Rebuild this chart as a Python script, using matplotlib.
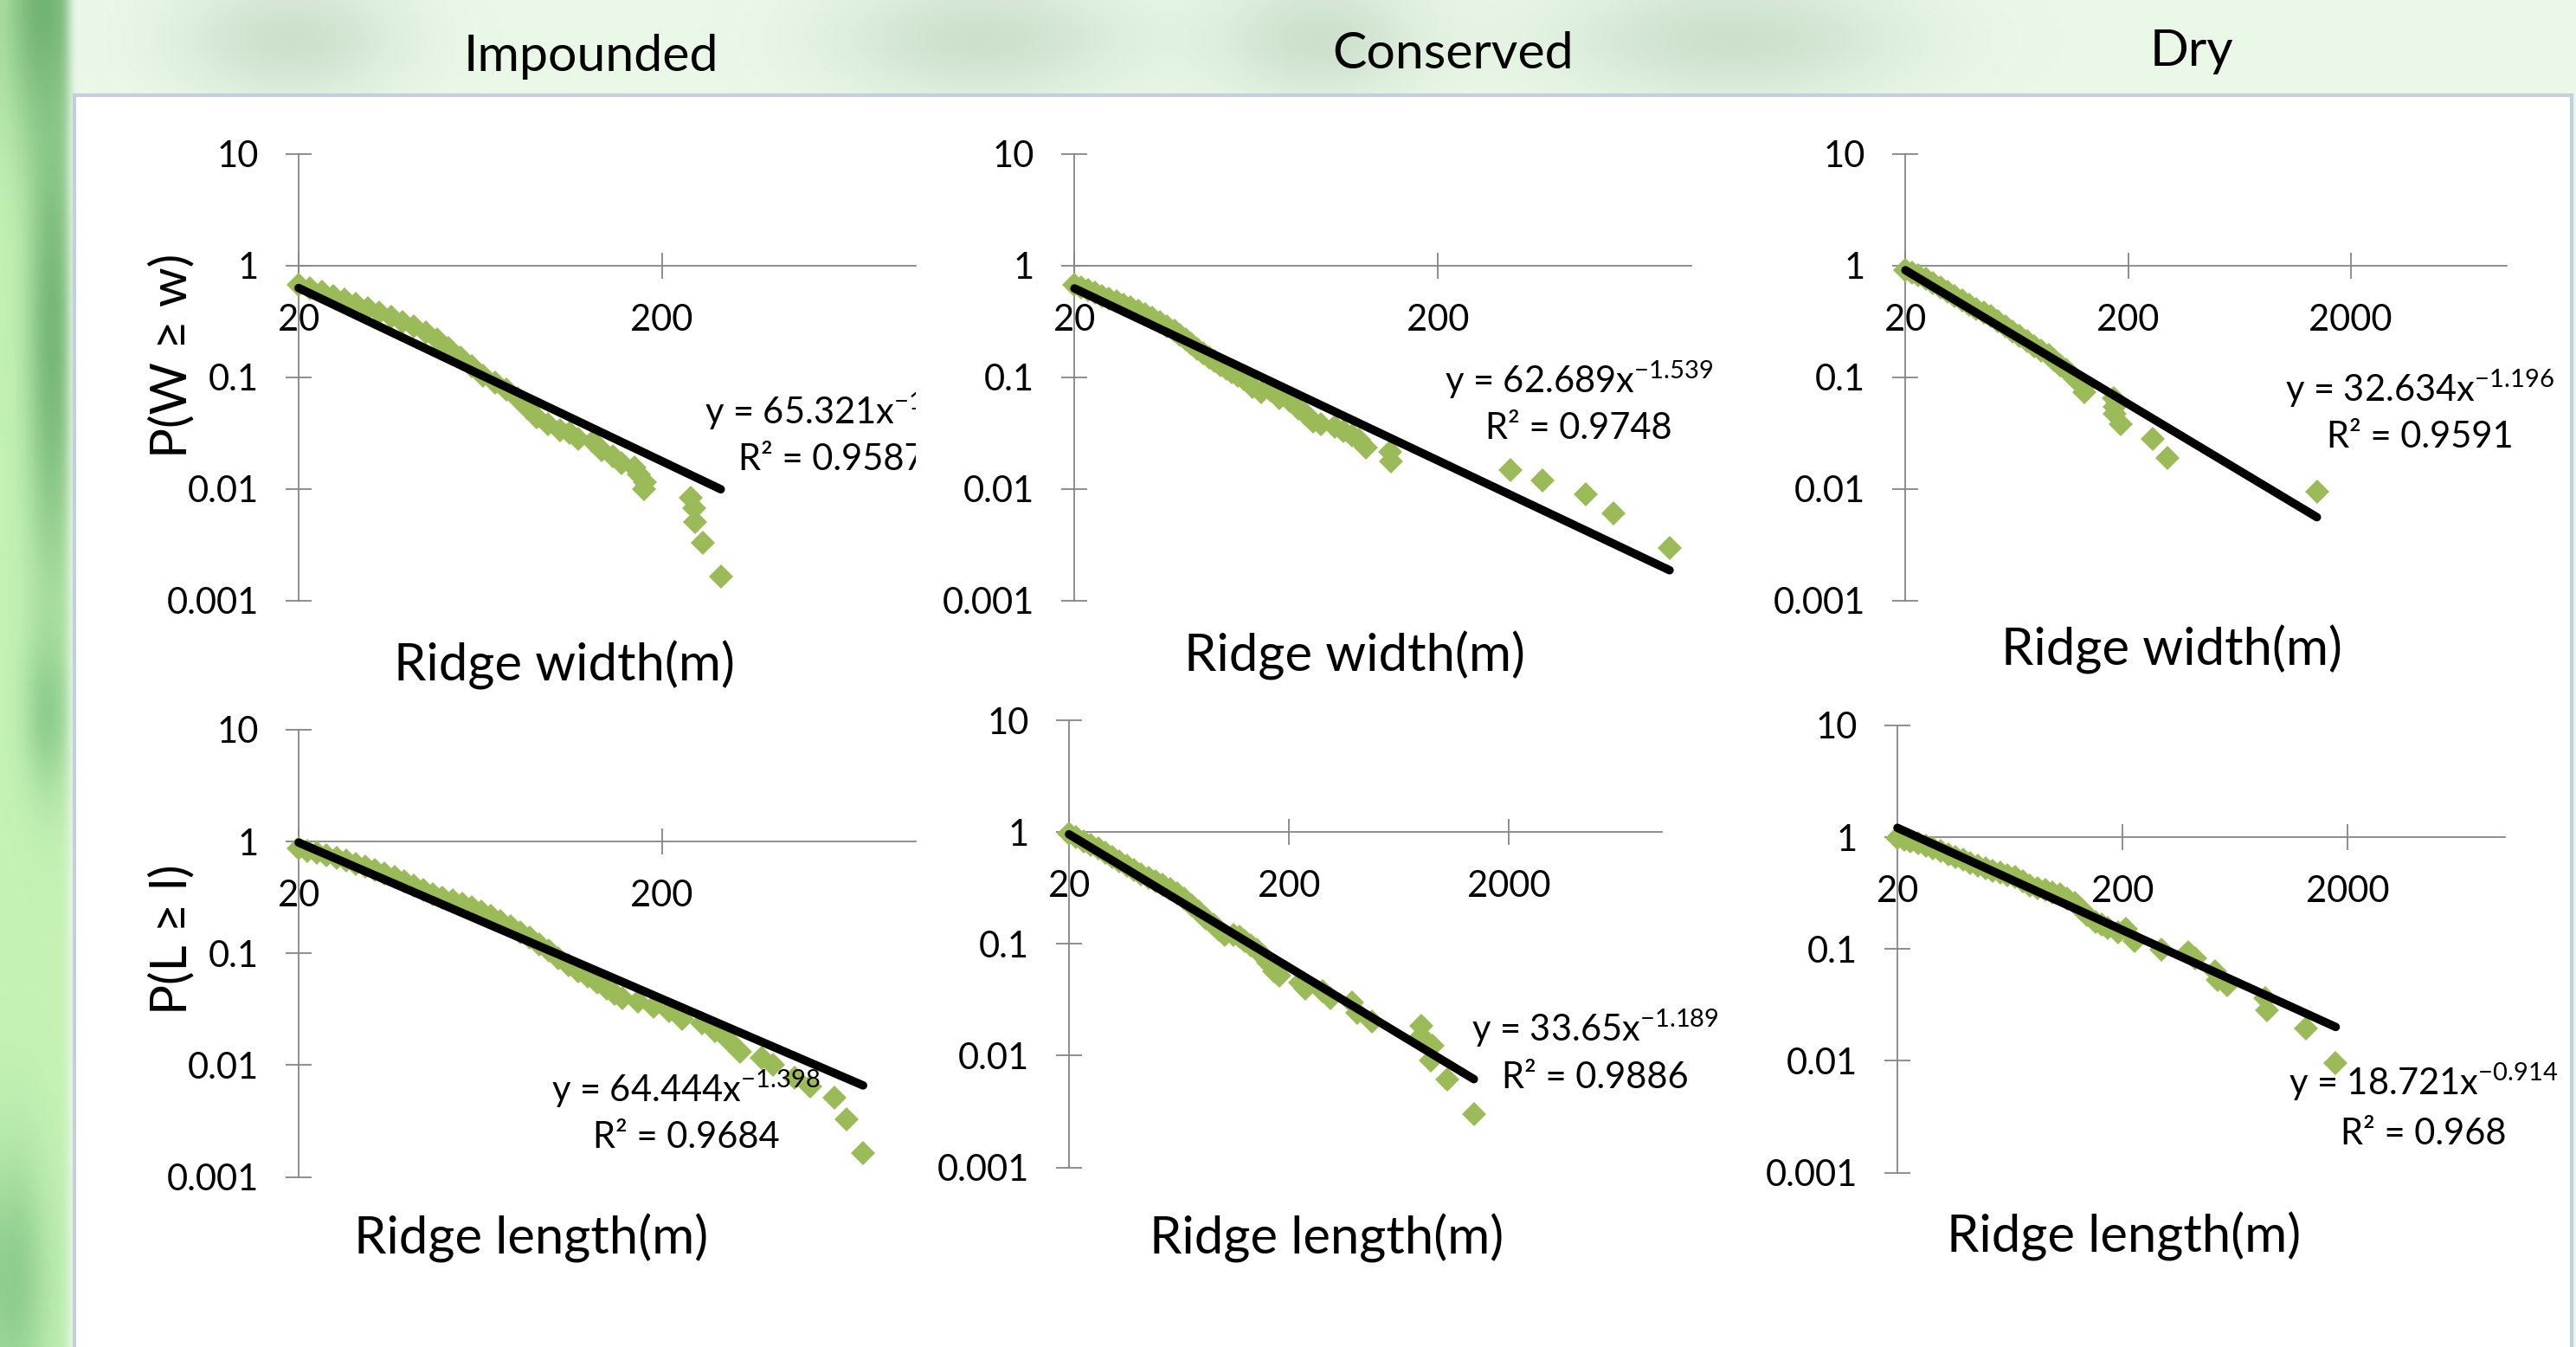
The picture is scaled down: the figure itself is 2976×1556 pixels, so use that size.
import numpy as np
import matplotlib
matplotlib.use("Agg")
import matplotlib.pyplot as plt
from matplotlib.patches import Rectangle
from matplotlib.ticker import FixedLocator, FuncFormatter, NullLocator

plt.rcParams["font.family"] = ["Lato", "DejaVu Sans"]
plt.rcParams["mathtext.fontset"] = "custom"
plt.rcParams["mathtext.rm"] = "Lato"
plt.rcParams["mathtext.it"] = "Lato:italic"
plt.rcParams["mathtext.default"] = "regular"

# ---- values ----
titles = ["Impounded", "Conserved", "Dry"]
ylabels = ["P(W \u2265 w)", "P(L \u2265 l)"]
xlabels = ["Ridge width(m)", "Ridge length(m)"]
yticks = [0.001, 0.01, 0.1, 1, 10]
xticks = [20, 200, 2000]
x_max = [1000, 1000, 10000, 1000, 10000, 10000]

imp_width_x = [20.0, 21.5, 23.15, 24.9, 26.8, 28.8, 31.0, 33.4, 35.9, 38.6, 41.6, 44.7,
               48.1, 51.8, 55.7, 59.9, 64.5, 69.4, 74.6, 80.3, 85.6, 90.5, 97.3, 104.7,
               111.6, 117.9, 129.2, 136.5, 146.9, 155.1, 168.5, 173.2, 179.6, 178.9,
               240.6, 245.1, 247.4, 259.9, 290.5]
imp_width_p = [0.667, 0.621, 0.578, 0.535, 0.495, 0.456, 0.417, 0.381, 0.347, 0.313, 0.283,
               0.251, 0.219, 0.184, 0.151, 0.125, 0.104, 0.090, 0.0775, 0.0648, 0.0526,
               0.0440, 0.0380, 0.0337, 0.0318, 0.0282, 0.0266, 0.0222, 0.0197, 0.0170,
               0.0155, 0.0134, 0.01155, 0.00996, 0.00834, 0.00678, 0.00504, 0.00332, 0.00164]

con_width_x = [20.0, 20.9, 21.8, 22.8, 23.8, 24.9, 26.1, 27.3, 28.6, 30.0, 31.4, 32.8, 34.4,
               36.0, 37.7, 39.1, 40.5, 42.0, 43.6, 45.2, 46.9, 48.7, 50.5, 52.4, 54.3, 56.3,
               58.4, 61.7, 65.2, 69.5, 73.4, 78.3, 82.7, 86.6, 90.6, 95.4, 104.0, 109.8,
               116.0, 121.4, 127.1, 148.0, 148.5, 317.6, 388.0, 511.7, 611.0, 871.0]
con_width_p = [0.667, 0.635, 0.602, 0.568, 0.535, 0.504, 0.475, 0.448, 0.422, 0.393, 0.363,
               0.3385, 0.313, 0.2867, 0.262, 0.2398, 0.219, 0.198, 0.178, 0.163, 0.149,
               0.1388, 0.1285, 0.1196, 0.1107, 0.1031, 0.0954, 0.0822, 0.0730, 0.0765,
               0.0648, 0.0611, 0.0526, 0.0468, 0.0403, 0.0379, 0.0357, 0.0327, 0.0299,
               0.0274, 0.0236, 0.0216, 0.0177, 0.01465, 0.01189, 0.00889, 0.00601, 0.00298]

dry_width_x = [20.0, 21.4, 22.9, 24.7, 26.6, 28.7, 30.9, 33.3, 35.9, 38.7, 41.7, 44.9, 48.4,
               52.2, 56.2, 60.6, 65.3, 70.3, 75.8, 81.6, 88.0, 93.4, 99.1, 105.2, 111.7,
               118.6, 125.9, 127.8, 172.3, 174.8, 174.8, 185.6, 257.8, 299.4, 1410.0]
dry_width_p = [0.913, 0.861, 0.811, 0.755, 0.699, 0.639, 0.585, 0.535, 0.490, 0.448, 0.410,
               0.381, 0.353, 0.319, 0.287, 0.2575, 0.233, 0.2104, 0.189, 0.1728, 0.158,
               0.1421, 0.1285, 0.1161, 0.1044, 0.0926, 0.0822, 0.0730, 0.0648, 0.0542,
               0.0468, 0.0379, 0.0282, 0.0188, 0.00946]

imp_length_x = [20.0, 21.1, 22.5, 23.9, 25.4, 27.0, 28.7, 30.5, 32.4, 34.5, 36.7, 39.0, 41.5,
                44.1, 46.9, 49.8, 53.0, 56.3, 59.9, 63.6, 67.7, 71.9, 76.5, 81.3, 86.5, 91.9,
                97.7, 103.9, 110.5, 117.4, 124.9, 132.7, 141.1, 148.2, 155.6, 171.7, 189.3,
                208.8, 227.6, 257.2, 280.3, 305.4, 328.6, 376.0, 404.7, 463.0, 510.7, 596.0,
                644.8, 716.0]
imp_length_p = [0.867, 0.817, 0.793, 0.752, 0.713, 0.671, 0.633, 0.593, 0.556, 0.517, 0.479,
                0.438, 0.401, 0.366, 0.335, 0.316, 0.298, 0.277, 0.2566, 0.2375, 0.2147,
                0.194, 0.1744, 0.155, 0.1375, 0.120, 0.1052, 0.0907, 0.0782, 0.0694, 0.0617,
                0.0547, 0.0486, 0.0437, 0.0395, 0.0372, 0.0330, 0.0302, 0.0261, 0.0238,
                0.0200, 0.0167, 0.0132, 0.0117, 0.0101, 0.0077, 0.00645, 0.00509, 0.00326,
                0.00164]

con_length_x = [20.0, 21.6, 23.3, 25.1, 27.1, 29.2, 31.5, 33.9, 36.6, 39.5, 42.6, 45.9, 49.5,
                53.4, 57.6, 62.1, 67.0, 72.3, 77.9, 84.1, 90.7, 96.3, 102.3, 112.0, 119.0,
                126.5, 134.3, 142.7, 151.6, 161.0, 171.1, 181.7, 224.6, 238.5, 286.0, 308.4,
                386.9, 411.1, 478.1, 799.0, 802.0, 902.0, 888.6, 1056.0, 1390.0]
con_length_p = [0.961, 0.895, 0.828, 0.771, 0.714, 0.653, 0.598, 0.546, 0.500, 0.457, 0.418,
                0.3894, 0.3605, 0.3357, 0.311, 0.2809, 0.2525, 0.2215, 0.193, 0.1695, 0.1476,
                0.1328, 0.120, 0.1202, 0.1164, 0.1067, 0.0975, 0.0880, 0.0791, 0.0675,
                0.0571, 0.0522, 0.0450, 0.0400, 0.0377, 0.0325, 0.0297, 0.0242, 0.0202,
                0.0185, 0.0150, 0.0122, 0.00907, 0.00617, 0.00298]

dry_length_x = [20.0, 21.4, 22.9, 24.8, 26.7, 28.8, 31.1, 33.6, 36.3, 39.1, 42.2, 45.6, 49.2,
                53.1, 57.3, 61.8, 66.7, 72.0, 77.7, 83.9, 90.6, 97.7, 105.5, 113.9, 122.9,
                130.6, 138.8, 152.1, 161.7, 171.9, 191.2, 206.3, 226.2, 297.7, 391.6, 422.7,
                515.5, 531.0, 582.5, 865.8, 879.0, 1307.0, 1774.0]
dry_length_p = [0.978, 0.950, 0.922, 0.884, 0.843, 0.794, 0.749, 0.706, 0.665, 0.626, 0.590,
                0.556, 0.524, 0.500, 0.480, 0.460, 0.439, 0.401, 0.367, 0.350, 0.336, 0.322,
                0.307, 0.281, 0.257, 0.228, 0.2026, 0.1747, 0.1646, 0.1551, 0.1418, 0.1506,
                0.1187, 0.0993, 0.0936, 0.0832, 0.0636, 0.0532, 0.0473, 0.0361, 0.0285,
                0.0194, 0.0095]

# power-law trend lines as printed on the chart
fit_a = [65.321, 62.689, 32.634, 64.444, 33.65, 18.721]
fit_b = [-1.55, -1.539, -1.196, -1.398, -1.189, -0.914]
fit_r2 = ["0.9587", "0.9748", "0.9591", "0.9684", "0.9886", "0.968"]

series = [(imp_width_x, imp_width_p), (con_width_x, con_width_p), (dry_width_x, dry_width_p),
          (imp_length_x, imp_length_p), (con_length_x, con_length_p), (dry_length_x, dry_length_p)]

# ---- layout (pixels of the 2976x1556 canvas) ----
W, H = 2976, 1556
GREEN = "#9BBB59"
AXIS = "#868686"

panels = [
    dict(l=345, r=1058, t=177.6, b=693.9, lab=(961, 474.5, 530.6), xl=(652, 768), clip=True),
    dict(l=1241.3, r=1954, t=177.6, b=693.9, lab=(1824, 438.8, 494.9), xl=(1564.7, 757.7), clip=False),
    dict(l=2201.3, r=2895.5, t=177.6, b=693.9, lab=(2795.4, 449, 505), xl=(2509.4, 750), clip=False),
    dict(l=345, r=1058, t=842.9, b=1359.5, lab=(792.7, 1257.6, 1314.5), xl=(613.8, 1430.8), clip=False),
    dict(l=1235, r=1920.3, t=832, b=1348.6, lab=(1843.2, 1188.3, 1245.2), xl=(1533, 1430.8), clip=False),
    dict(l=2192.1, r=2893.6, t=837.9, b=1354.6, lab=(2800, 1250.2, 1309.5), xl=(2453.8, 1428.3), clip=False),
]
title_pos = [(683, 65), (1678.7, 62.5), (2532.4, 60)]
ylabel_pos = [(198.5, 411), (198.5, 1085.6)]


def fx(x):
    return x / W


def fy(y):
    return 1 - y / H


fig = plt.figure(figsize=(W / 100, H / 100), dpi=100)

# slide background: pale green with blurred leaf shapes, white chart area
gh, gw = 156, 298
yy, xx = np.mgrid[0:gh, 0:gw] * 10.0
bg = np.empty((gh, gw, 3))
bg[:] = (0.92, 0.975, 0.91)


def blob(cx, cy, sx, sy, col, mask=None):
    w = np.exp(-(((xx - cx) / sx) ** 2 + ((yy - cy) / sy) ** 2))
    if mask is not None:
        w = w * mask
    bg[:] = bg * (1 - w[..., None]) + np.array(col) * w[..., None]


for cx, sx in [(330, 130), (1130, 170), (1520, 120), (2000, 200)]:
    blob(cx, 40, sx, 70, (0.80, 0.88, 0.80))
left = (xx < 76).astype(float)
bg[xx < 76] = (0.77, 0.95, 0.71)
blob(45, 0, 45, 160, (0.44, 0.70, 0.45), left)
blob(55, 380, 28, 300, (0.45, 0.71, 0.46), left)
blob(50, 820, 25, 90, (0.55, 0.80, 0.55), left)
blob(10, 1480, 40, 150, (0.55, 0.80, 0.55), left)
bg[(xx >= 76) & (xx < 90)] = (0.93, 0.97, 0.93)

bgax = fig.add_axes([0, 0, 1, 1], zorder=-10)
bgax.imshow(bg, extent=(0, W, H, 0), aspect="auto", interpolation="bicubic")
bgax.add_patch(Rectangle((86, 110), 2885, 1500, facecolor="white", edgecolor="#C3CFDD", lw=3))
bgax.set_xlim(0, W)
bgax.set_ylim(H, 0)
bgax.axis("off")

for i, p in enumerate(panels):
    ax = fig.add_axes([fx(p["l"]), fy(p["b"]), fx(p["r"] - p["l"]), (p["b"] - p["t"]) / H])
    ax.patch.set_visible(False)
    ax.set_xscale("log")
    ax.set_yscale("log")
    ax.set_xlim(20, x_max[i])
    ax.set_ylim(0.001, 10)

    xs, ps = series[i]
    ax.plot(xs, ps, ls="none", marker="D", ms=14, color=GREEN, mew=0, clip_on=False, zorder=3)
    xe = np.array([min(xs), max(xs)])
    ax.plot(xe, fit_a[i] * xe ** fit_b[i], color="black", lw=7, solid_capstyle="round",
            clip_on=False, zorder=4)

    for s in ["top", "right"]:
        ax.spines[s].set_visible(False)
    ax.spines["bottom"].set_position(("data", 1))
    for s in ["left", "bottom"]:
        ax.spines[s].set_color(AXIS)
        ax.spines[s].set_linewidth(1.3)
        ax.spines[s].set_zorder(1)
    ax.xaxis.set_major_locator(FixedLocator([t for t in xticks if t <= x_max[i]]))
    ax.yaxis.set_major_locator(FixedLocator(yticks))
    ax.xaxis.set_minor_locator(NullLocator())
    ax.yaxis.set_minor_locator(NullLocator())
    fmt = FuncFormatter(lambda v, pos: f"{v:g}")
    ax.xaxis.set_major_formatter(fmt)
    ax.yaxis.set_major_formatter(fmt)
    ax.tick_params(axis="both", which="major", direction="inout", length=21.6, width=1.3,
                   color=AXIS, labelsize=30, labelcolor="black")
    ax.tick_params(axis="x", pad=21)
    ax.tick_params(axis="y", pad=22.5)

    cx, y1, y2 = p["lab"]
    eq = f"y = {fit_a[i]}$x^{{{fit_b[i]}}}$"
    ax.text(fx(cx), fy(y1), eq, transform=fig.transFigure, ha="center", va="center",
            fontsize=30, clip_on=p["clip"], zorder=5)
    ax.text(fx(cx), fy(y2), f"R\u00b2 = {fit_r2[i]}", transform=fig.transFigure,
            ha="center", va="center", fontsize=30, clip_on=p["clip"], zorder=5)

    fig.text(fx(p["xl"][0]), fy(p["xl"][1]), xlabels[i // 3], ha="center", va="center",
             fontsize=43)

for t, (x, y) in zip(titles, title_pos):
    fig.text(fx(x), fy(y), t, ha="center", va="center", fontsize=42.5)
for t, (x, y) in zip(ylabels, ylabel_pos):
    fig.text(fx(x), fy(y), t, ha="center", va="center", rotation=90, fontsize=42)

fig.savefig("out.png", dpi=100)
